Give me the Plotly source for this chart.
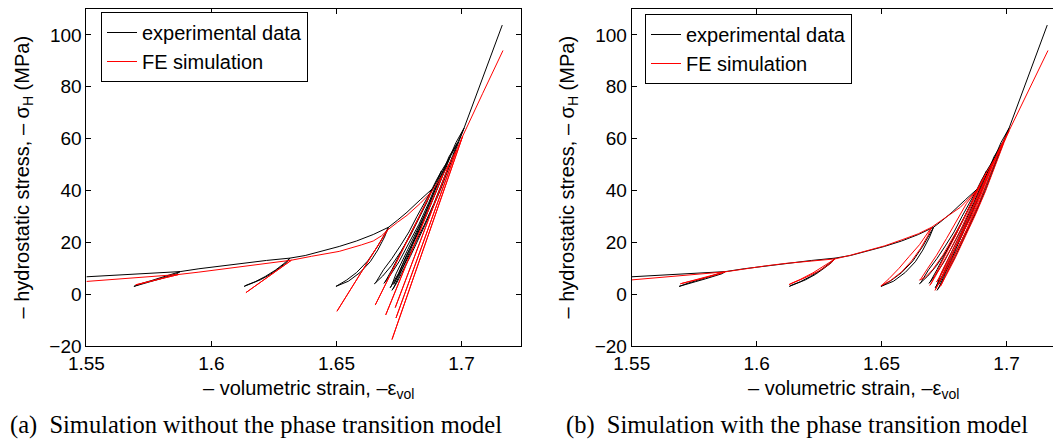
import plotly.graph_objects as go

# ---------------- tick values ----------------
x_tick_vals = [1.55, 1.6, 1.65, 1.7]
x_tick_text = ["1.55", "1.6", "1.65", "1.7"]
y_tick_vals = [-20, 0, 20, 40, 60, 80, 100]
y_tick_text = ["\u221220", "0", "20", "40", "60", "80", "100"]

# ---------------- experimental data (same in both panels) ----------------
exp_strain = [
    1.550, 1.560, 1.570, 1.580, 1.5875,
    1.5862, 1.5835, 1.5795, 1.5755, 1.5720, 1.5690,
    1.5698, 1.5727, 1.5765, 1.5805, 1.5843, 1.5875,
    1.595, 1.6035, 1.612, 1.622, 1.6314,
    1.6300, 1.6270, 1.6235, 1.6195, 1.6160, 1.6131,
    1.6138, 1.6175, 1.6215, 1.6255, 1.6290, 1.6314,
    1.6375, 1.6440, 1.6511, 1.6580, 1.6647, 1.6708,
    1.6692, 1.6665, 1.6635, 1.6595, 1.6548, 1.6498,
    1.6505, 1.6540, 1.6580, 1.6625, 1.6665, 1.6708,
    1.6745, 1.6782, 1.6835, 1.6882,
    1.6862, 1.6832, 1.6795, 1.6758, 1.6720, 1.6685, 1.6652,
    1.6658, 1.6688, 1.6722, 1.6755, 1.6790, 1.6822, 1.6855, 1.6882,
    1.6900, 1.6920,
    1.6900, 1.6870, 1.6830, 1.6790, 1.6750, 1.6715, 1.6690,
    1.6695, 1.6722, 1.6755, 1.6793, 1.6832, 1.6875, 1.6920,
    1.6938, 1.6955,
    1.6935, 1.6900, 1.6860, 1.6820, 1.6780, 1.6748, 1.6728, 1.6715,
    1.6720, 1.6738, 1.6772, 1.6812, 1.6852, 1.6893, 1.6928, 1.6955,
    1.6970, 1.6985,
    1.6965, 1.6930, 1.6890, 1.6850, 1.6810, 1.6770, 1.6745, 1.6728,
    1.6733, 1.6752, 1.6790, 1.6828, 1.6868, 1.6910, 1.6950, 1.6985,
    1.6998, 1.7010,
    1.6990, 1.6955, 1.6915, 1.6875, 1.6835, 1.6795, 1.6760, 1.6740, 1.6722,
    1.6728, 1.6748, 1.6780, 1.6818, 1.6858, 1.6900, 1.6940, 1.6978, 1.7010,
    1.7060, 1.7110, 1.7163,
]
exp_stress = [
    6.7, 7.2, 7.7, 8.2, 8.7,
    7.9, 7.0, 5.9, 4.8, 3.8, 3.0,
    3.3, 4.3, 5.4, 6.6, 7.8, 8.7,
    9.8, 10.9, 12.0, 13.0, 13.9,
    12.2, 10.0, 7.6, 5.5, 4.0, 3.0,
    3.4, 4.8, 6.8, 9.2, 11.8, 13.9,
    14.9, 16.5, 18.4, 20.5, 23.0, 25.8,
    22.0, 17.0, 12.5, 8.4, 5.0, 3.0,
    3.4, 5.4, 8.3, 12.8, 18.5, 25.8,
    28.6, 31.6, 36.4, 40.5,
    35.5, 29.5, 22.5, 16.5, 11.0, 7.0, 4.0,
    4.6, 9.4, 13.8, 18.6, 24.0, 30.0, 35.5, 40.5,
    44.0, 47.5,
    42.5, 35.5, 27.0, 19.5, 12.5, 7.3, 4.2,
    4.8, 9.5, 15.5, 22.5, 30.0, 38.5, 47.5,
    50.3, 53.0,
    48.0, 39.5, 30.5, 22.5, 15.0, 8.0, 4.5, 2.5,
    3.2, 7.8, 14.5, 22.0, 30.5, 40.0, 48.0, 53.0,
    55.8, 58.5,
    53.5, 44.5, 35.0, 26.5, 18.5, 11.0, 6.8, 3.8,
    4.5, 8.5, 16.5, 25.0, 34.0, 43.5, 53.0, 58.5,
    61.2, 64.0,
    59.0, 50.0, 40.0, 31.0, 22.5, 14.5, 8.0, 4.2, 1.5,
    2.3, 6.5, 13.5, 22.0, 30.5, 40.0, 50.0, 58.5, 64.0,
    77.0, 90.0, 103.8,
]

# ---------------- (a) FE simulation without phase transition ----------------
sim_a_strain = [
    1.550, 1.560, 1.570, 1.580, 1.5870,
    1.5697, 1.5870,
    1.5950, 1.6035, 1.6120, 1.6220, 1.6320,
    1.6138, 1.6320,
    1.6400, 1.6511, 1.6600, 1.6647, 1.6680, 1.6705,
    1.6502, 1.6705,
    1.6745, 1.6782, 1.6835, 1.6880,
    1.6655, 1.6880,
    1.6925,
    1.6697, 1.6925,
    1.6955,
    1.6735, 1.6955,
    1.6980,
    1.6738, 1.6980,
    1.7005,
    1.6722, 1.7005,
    1.7085, 1.7166,
]
sim_a_stress = [
    4.9, 5.7, 6.5, 7.1, 7.6,
    3.6, 7.6,
    8.5, 9.6, 10.8, 12.0, 13.1,
    0.6, 13.1,
    14.6, 16.5, 19.0, 20.5, 22.5, 24.8,
    -6.6, 24.8,
    27.8, 30.4, 35.0, 39.5,
    -4.2, 39.5,
    46.0,
    -8.0, 46.0,
    51.0,
    -5.2, 51.0,
    55.5,
    -9.2, 55.5,
    61.0,
    -17.5, 61.0,
    77.5, 94.0,
]

# ---------------- (b) FE simulation with phase transition ----------------
sim_b_strain = [
    1.550, 1.560, 1.570, 1.580, 1.5873,
    1.5850, 1.5810, 1.5760, 1.5720, 1.5695,
    1.5700, 1.5740, 1.5790, 1.5835, 1.5873,
    1.5950, 1.6035, 1.6120, 1.6220, 1.6314,
    1.6290, 1.6250, 1.6200, 1.6160, 1.6130,
    1.6135, 1.6175, 1.6225, 1.6270, 1.6314,
    1.6375, 1.6449, 1.6511, 1.6585, 1.6647, 1.6700,
    1.6685, 1.6655, 1.6620, 1.6580, 1.6535, 1.6497,
    1.6503, 1.6530, 1.6570, 1.6610, 1.6652, 1.6700,
    1.6750, 1.6815, 1.6880,
    1.6860, 1.6825, 1.6785, 1.6745, 1.6705, 1.6675, 1.6652,
    1.6658, 1.6685, 1.6720, 1.6760, 1.6800, 1.6840, 1.6880,
    1.6920,
    1.6898, 1.6862, 1.6822, 1.6780, 1.6740, 1.6710, 1.6693,
    1.6698, 1.6720, 1.6755, 1.6795, 1.6835, 1.6878, 1.6920,
    1.6955,
    1.6932, 1.6895, 1.6855, 1.6815, 1.6775, 1.6742, 1.6720,
    1.6725, 1.6745, 1.6780, 1.6820, 1.6862, 1.6908, 1.6955,
    1.6985,
    1.6962, 1.6925, 1.6885, 1.6845, 1.6805, 1.6765, 1.6735, 1.6714,
    1.6720, 1.6740, 1.6775, 1.6815, 1.6858, 1.6902, 1.6945, 1.6985,
    1.7010,
    1.6990, 1.6955, 1.6915, 1.6875, 1.6835, 1.6795, 1.6760, 1.6735,
    1.6740, 1.6762, 1.6798, 1.6838, 1.6880, 1.6925, 1.6968, 1.7010,
    1.7088, 1.7166,
]
sim_b_stress = [
    5.5, 6.3, 7.0, 7.8, 8.6,
    7.8, 6.7, 5.5, 4.6, 4.0,
    4.3, 5.2, 6.4, 7.6, 8.6,
    9.8, 10.9, 11.9, 12.8, 13.6,
    11.5, 9.0, 6.6, 4.8, 3.7,
    4.0, 5.7, 8.2, 10.8, 13.6,
    15.0, 17.1, 18.6, 21.1, 23.3, 25.8,
    22.5, 17.5, 12.8, 8.6, 5.2, 3.2,
    3.6, 6.0, 10.0, 14.5, 19.1, 25.8,
    29.0, 33.5, 40.0,
    35.5, 28.5, 21.5, 15.0, 9.5, 6.5, 5.4,
    6.0, 10.0, 15.0, 21.5, 28.5, 35.0, 40.0,
    47.0,
    42.5, 34.5, 26.0, 18.0, 11.0, 6.0, 3.4,
    4.0, 8.5, 15.0, 22.5, 30.5, 39.0, 47.0,
    52.5,
    47.5, 38.5, 29.5, 21.5, 14.0, 8.0, 4.7,
    5.3, 9.5, 16.0, 24.0, 33.0, 43.0, 52.5,
    58.0,
    53.0, 43.5, 34.0, 25.5, 17.5, 10.5, 5.0, 1.5,
    2.3, 6.5, 13.5, 22.0, 31.0, 41.0, 50.5, 58.0,
    63.0,
    58.5, 49.5, 39.5, 30.5, 22.0, 14.0, 7.5, 3.0,
    3.8, 8.5, 16.0, 24.5, 34.0, 45.0, 55.5, 63.0,
    78.5, 94.0,
]

series_names = ["experimental data", "FE simulation"]
captions = ["(a)  Simulation without the phase transition model",
            "(b)  Simulation with the phase transition model"]

# ---------------- figure ----------------
W, H = 1061, 443
SANS = "Liberation Sans, Arial, sans-serif"
SERIF = "Liberation Serif, Times New Roman, serif"

fig = go.Figure()

fig.add_trace(go.Scatter(x=exp_strain, y=exp_stress, mode="lines", name=series_names[0],
                         line=dict(color="black", width=1), xaxis="x", yaxis="y", legend="legend"))
fig.add_trace(go.Scatter(x=sim_a_strain, y=sim_a_stress, mode="lines", name=series_names[1],
                         line=dict(color="#ff0000", width=1), xaxis="x", yaxis="y", legend="legend"))
fig.add_trace(go.Scatter(x=exp_strain, y=exp_stress, mode="lines", name=series_names[0],
                         line=dict(color="black", width=1), xaxis="x2", yaxis="y2", legend="legend2"))
fig.add_trace(go.Scatter(x=sim_b_strain, y=sim_b_stress, mode="lines", name=series_names[1],
                         line=dict(color="#ff0000", width=1), xaxis="x2", yaxis="y2", legend="legend2"))

# page is drawn with an 8 px offset; positions below are in figure pixels
ydom = [1 - 338 / H, 1 - 1 / H]
x1dom = [78.4 / W, 513 / W]
x2dom = [623.7 / W, 1058 / W]

axis_common = dict(showgrid=False, zeroline=False, showline=True, linecolor="black", linewidth=1,
                   ticks="inside", ticklen=5, tickcolor="black", tickwidth=1, automargin=False,
                   tickfont=dict(family=SANS, size=19, color="black"))

fig.update_layout(
    template="none",
    width=W, height=H,
    margin=dict(l=0, r=0, t=0, b=0, pad=0, autoexpand=False),
    paper_bgcolor="white", plot_bgcolor="white",
    xaxis=dict(domain=x1dom, range=[1.55, 1.7238], tickvals=x_tick_vals, ticktext=x_tick_text,
               mirror="allticks", anchor="y", **axis_common),
    yaxis=dict(domain=ydom, range=[-20, 110], tickvals=y_tick_vals, ticktext=y_tick_text,
               mirror="allticks", anchor="x", **axis_common),
    xaxis2=dict(domain=x2dom, range=[1.55, 1.7238], tickvals=x_tick_vals, ticktext=x_tick_text,
                mirror="allticks", anchor="y2", **axis_common),
    yaxis2=dict(domain=ydom, range=[-20, 110], tickvals=y_tick_vals, ticktext=y_tick_text,
                mirror=False, anchor="x2", **axis_common),
    legend=dict(x=93 / W, y=1 - 4 / H, xanchor="left", yanchor="top",
                bordercolor="black", borderwidth=1, bgcolor="white",
                font=dict(family=SANS, size=20, color="black"), tracegroupgap=0),
    legend2=dict(x=637 / W, y=1 - 6 / H, xanchor="left", yanchor="top",
                 bordercolor="black", borderwidth=1, bgcolor="white",
                 font=dict(family=SANS, size=20, color="black"), tracegroupgap=0),
    showlegend=True,
)

ytitle = "\u2013 hydrostatic stress, \u2013 \u03c3<sub>H</sub> (MPa)"
xtitle = "\u2013 volumetric strain, \u2013\u03b5<sub>vol</sub>"
ymid = (ydom[0] + ydom[1]) / 2

annotations = []
for xc in [15 / W, 560 / W]:
    annotations.append(dict(text=ytitle, x=xc, y=ymid, xref="paper", yref="paper",
                            xanchor="center", yanchor="middle", textangle=-90, showarrow=False,
                            font=dict(family=SANS, size=20, color="black")))
for xc in [300 / W, 845 / W]:
    annotations.append(dict(text=xtitle, x=xc, y=1 - 381 / H, xref="paper", yref="paper",
                            xanchor="center", yanchor="middle", showarrow=False,
                            font=dict(family=SANS, size=20, color="black")))
for xl, cap in zip([0.0, 556 / W], captions):
    annotations.append(dict(text=cap, x=xl, y=1 - 417 / H, xref="paper", yref="paper",
                            xanchor="left", yanchor="middle", showarrow=False,
                            font=dict(family=SERIF, size=24.5, color="black")))
fig.update_layout(annotations=annotations)

fig.write_html("out.html")
